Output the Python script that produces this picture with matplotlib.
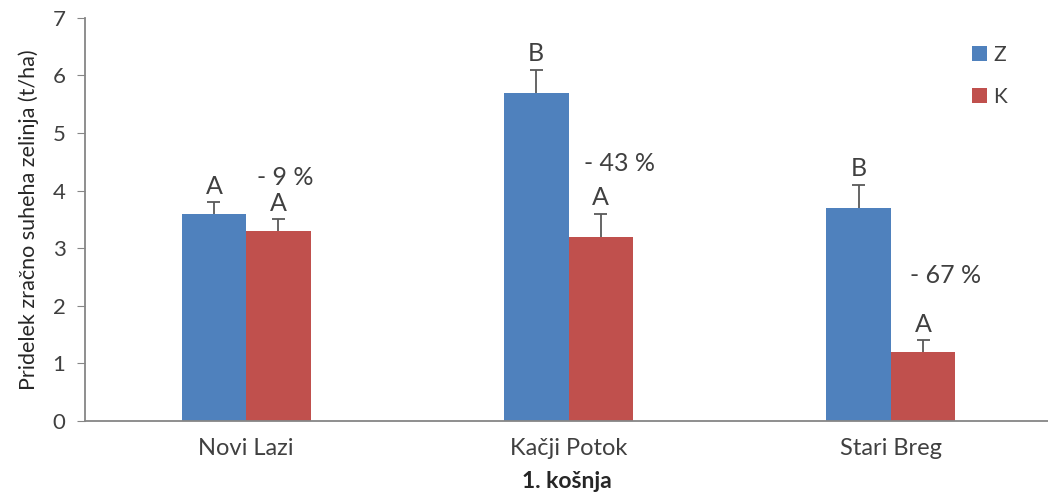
import matplotlib.pyplot as plt
import numpy as np

plt.rcParams['font.family'] = ['Lato', 'DejaVu Sans']

sites = ["Novi Lazi", "Kačji Potok", "Stari Breg"]
z_vals = [3.6, 5.7, 3.7]
k_vals = [3.3, 3.2, 1.2]
z_err = [0.2, 0.4, 0.4]
k_err = [0.2, 0.4, 0.2]
z_letters = ["A", "B", "B"]
k_letters = ["A", "A", "A"]
changes = ["- 9 %", "- 43 %", "- 67 %"]

blue = "#4F81BD"
red = "#C0504D"
grey = "#404040"
axis_grey = "#868686"

fig = plt.figure(figsize=(10.48, 4.97), dpi=100)
ax = fig.add_axes([0.081, 0.153, 0.919, 0.811])

x = np.arange(len(sites))
w = 0.2
ax.bar(x - w / 2, z_vals, w, color=blue, label="Z", zorder=2)
ax.bar(x + w / 2, k_vals, w, color=red, label="K", zorder=2)

# upper-only error bars: stem plus cap
cap = 0.02
for xs, vals, errs in [(x - w / 2, z_vals, z_err), (x + w / 2, k_vals, k_err)]:
    tops = np.array(vals) + np.array(errs)
    ax.vlines(xs, vals, tops, color="#595959", lw=1.3, zorder=3)
    ax.hlines(tops, xs - cap, xs + cap, color="#595959", lw=1.3, zorder=3)

# significance letters above the error bars
for i in range(len(sites)):
    ax.text(x[i] - w / 2, z_vals[i] + z_err[i] + 0.08, z_letters[i],
            ha="center", va="bottom", fontsize=18, color=grey)
    ax.text(x[i] + w / 2, k_vals[i] + k_err[i] + 0.08, k_letters[i],
            ha="center", va="bottom", fontsize=18, color=grey)

# relative change of K vs Z
change_x = [0.035, 0.047, 0.06]
change_y = [4.02, 4.27, 2.32]
for i in range(len(sites)):
    ax.text(x[i] + change_x[i], change_y[i], changes[i], ha="left",
            va="bottom", fontsize=18, color=grey)

ax.set_xlim(-0.5, 2.487)
ax.set_ylim(0, 7)
ax.set_yticks(range(0, 8))
ax.set_xticks(x)
ax.set_xticklabels(sites, fontsize=17, color=grey)
ax.tick_params(axis="y", labelsize=16, labelcolor=grey, color=axis_grey,
               length=6, direction="out", pad=8)
ax.tick_params(axis="x", length=0, pad=12)
ax.set_xlabel("1. košnja", fontsize=16.5, fontweight="bold", color="#262626",
              labelpad=9)
ax.set_ylabel("Pridelek zračno suheha zelinja (t/ha)", fontsize=15.5,
              color="#262626", labelpad=10)

for side in ["top", "right"]:
    ax.spines[side].set_visible(False)
for side in ["left", "bottom"]:
    ax.spines[side].set_color(axis_grey)
    ax.spines[side].set_linewidth(1.3)

ax.legend(loc="upper left", bbox_to_anchor=(0.902, 0.98), frameon=False,
          fontsize=15, handlelength=0.7, handleheight=0.7, handletextpad=0.3,
          labelspacing=1.05, labelcolor=grey)

fig.savefig("out.png", dpi=100)
